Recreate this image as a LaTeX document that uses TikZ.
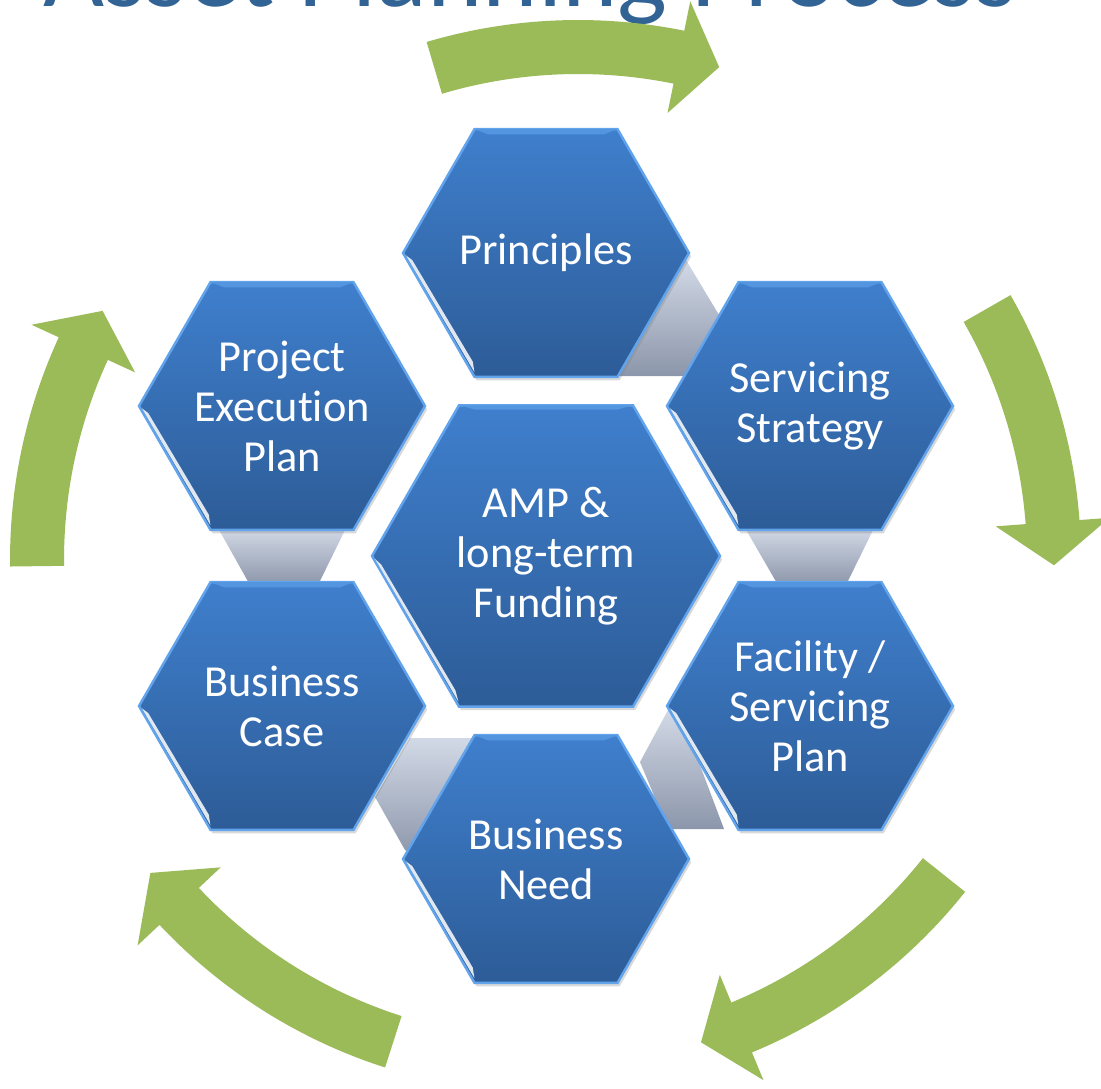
\documentclass[tikz,border=0pt]{standalone}
\usepackage{fontspec}
\setmainfont{Carlito}[Ligatures=NoCommon]
\usetikzlibrary{shadows}

\definecolor{hexlight}{HTML}{3F7FCD}
\definecolor{hexdark}{HTML}{2D5C97}
\definecolor{hexedge}{HTML}{62A4EC}
\definecolor{linklight}{HTML}{D2D9E6}
\definecolor{linkdark}{HTML}{8C96AA}
\definecolor{cyclegreen}{HTML}{9BBB59}
\definecolor{titleblue}{HTML}{326395}

% curved block arrow round (#1,#2): tail angle #3, head angle #4, tip angle #5
\newcommand{\cyclearrow}[5]{%
  \fill[cyclegreen] plot[domain=#3:#4, samples=40] ({#1+533*cos(\x)},{#2+533*sin(\x)})
    -- ({#1+563*cos(#4)},{#2+563*sin(#4)})
    -- ({#1+506*cos(#5)},{#2+506*sin(#5)})
    -- ({#1+449*cos(#4)},{#2+449*sin(#4)})
    -- plot[domain=#4:#3, samples=40] ({#1+479*cos(\x)},{#2+479*sin(\x)})
    -- cycle;}

\begin{document}
\begin{tikzpicture}[
  x=0.01cm, y=-0.01cm,
  hexbody/.style={top color=hexlight, bottom color=hexdark, draw=hexedge, line width=0.7pt,
    drop shadow={opacity=.3, shadow xshift=.6pt, shadow yshift=-1pt}},
  hexshine/.style={fill=white, opacity=.85},
  hexbevel/.style={fill=hexedge!60!hexlight},
  hextext/.style={text=white, align=center, font=\fontsize{12.6}{14.2}\selectfont},
  link/.style={top color=linklight, bottom color=linkdark},
  heading/.style={text=titleblue, font=\fontsize{30}{36}\selectfont, anchor=base}
  ]
\useasboundingbox (0,0) rectangle (1101,1088);
\clip (0,0) rectangle (1101,1088);

% title, mostly cut off by the page
\node[heading] (title) at (530,7) {Asset Planning Process};

% green cycle
\cyclearrow{578}{553}{-106.5}{-78.5}{-73.8}
\cyclearrow{548}{560}{-29.8}{-4.3}{0.6}
\cyclearrow{548}{560}{38.5}{67.5}{72.4}
\cyclearrow{548}{560}{107.8}{136.8}{141.8}
\cyclearrow{543}{560}{179.3}{204.7}{209.5}

% grey links between neighbouring cells
\path[link] (686,260) -- (719,315) -- (688,376) -- (614,376) -- cycle;
\path[link] (745,528) -- (874,528) -- (846,585) -- (778,585) -- cycle;
\path[link] (668,710) -- (698,760) -- (724,829) -- (668,829) -- (640,762) -- cycle;
\path[link] (410,738) -- (480,738) -- (420,858) -- (405,850) -- (375,797) -- cycle;
\path[link] (218,528) -- (346,528) -- (318,585) -- (250,585) -- cycle;

% hexagon cells
\foreach \nm/\cx/\cy/\rr/\txt in {
    princ/546/253/143/Principles,
    strat/810/406/143/{Servicing\\Strategy},
    plan/810/706/143/{Facility /\\Servicing\\Plan},
    need/546/859/143/{Business\\Need},
    case/282/706/143/{Business\\Case},
    exec/282/406/143/{Project\\Execution\\Plan},
    amp/546/556/174/{AMP \&\\long-term\\Funding}}
{
  \path[hexbody] (\cx,\cy) +(0:\rr) -- +(60:\rr) -- +(120:\rr) -- +(180:\rr)
    -- +(240:\rr) -- +(300:\rr) -- cycle;
  \path[hexbevel] (\cx,\cy) +(240:\rr) -- +(300:\rr) -- +(296:{\rr-11}) -- +(244:{\rr-11}) -- cycle;
  \path[hexshine] (\cx,\cy) +(179:{\rr-3}) -- +(121:{\rr-4}) -- +(124:{\rr-12}) -- +(177:{\rr-9}) -- cycle;
  \node[hextext] (\nm) at (\cx,\cy) {\txt};
}
\end{tikzpicture}
\end{document}
